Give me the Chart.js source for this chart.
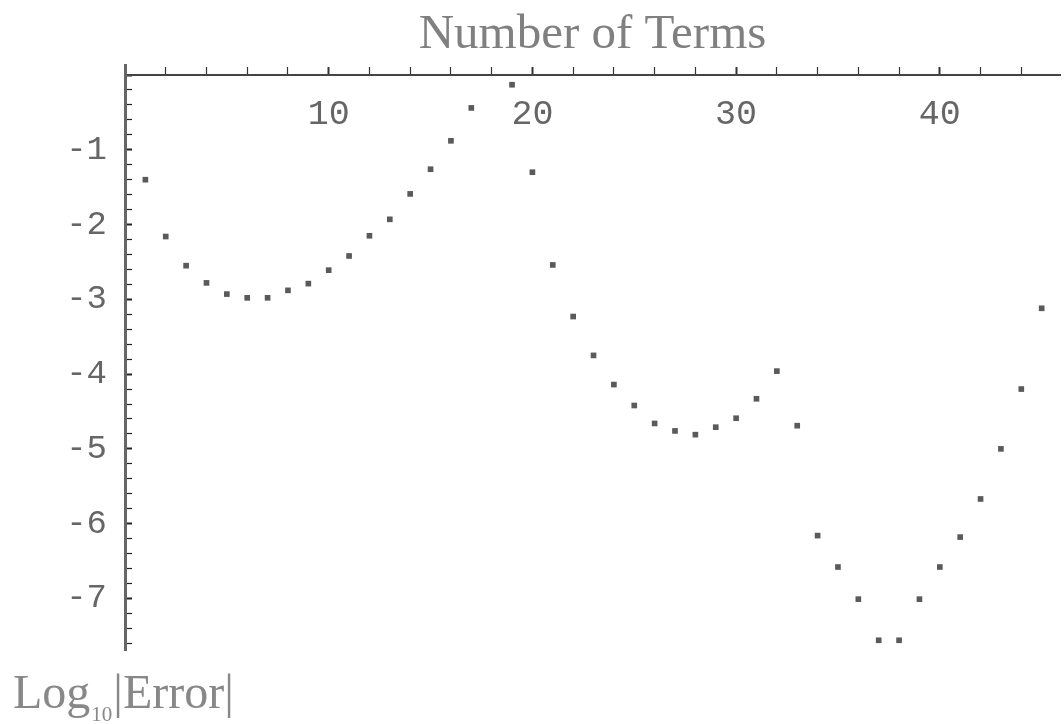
<!DOCTYPE html>
<html>
<head>
<meta charset="utf-8">
<script src="https://cdn.jsdelivr.net/npm/chart.js@4"></script>
<style>
  html, body { margin: 0; padding: 0; background: #ffffff; }
  #wrap { width: 1064px; height: 724px; position: relative; }
</style>
</head>
<body>
<div id="wrap"><canvas id="c" width="1064" height="724"></canvas></div>
<script>
// Number of terms (x) — term 18 falls off the top of the plot and is not drawn
const terms = [1, 2, 3, 4, 5, 6, 7, 8, 9, 10, 11, 12, 13, 14, 15, 16, 17,
               19, 20, 21, 22, 23, 24, 25, 26, 27, 28, 29, 30, 31, 32, 33,
               34, 35, 36, 37, 38, 39, 40, 41, 42, 43, 44, 45];
// log10 |Error|
const logError = [-1.40, -2.16, -2.55, -2.78, -2.93, -2.98, -2.98, -2.88, -2.79, -2.61,
                  -2.42, -2.15, -1.93, -1.59, -1.26, -0.88, -0.44,
                  -0.13, -1.30, -2.54, -3.23, -3.75, -4.14, -4.42, -4.66, -4.76,
                  -4.81, -4.71, -4.59, -4.33, -3.96, -4.69,
                  -6.16, -6.58, -7.01, -7.56, -7.56, -7.01, -6.58, -6.18, -5.67,
                  -5.00, -4.20, -3.12];
const xTickLabels = [10, 20, 30, 40];
const yTickLabels = [-1, -2, -3, -4, -5, -6, -7];
const titleText = 'Number of Terms';
const yLabelMain = 'Log';
const yLabelSub = '10';
const yLabelTail = '|Error|';

const points = terms.map((t, i) => ({ x: t, y: logError[i] }));

function labelFor(v, list) {
  const r = Math.round(v);
  return (Math.abs(v - r) < 1e-6 && list.includes(r)) ? String(r) : '';
}
function isWhole(v, every) {
  const r = Math.round(v);
  return Math.abs(v - r) < 1e-6 && r % every === 0;
}

const yLabelPlugin = {
  id: 'yLabel',
  afterDraw(chart) {
    const ctx = chart.ctx;
    ctx.save();
    ctx.fillStyle = '#888';
    ctx.textBaseline = 'alphabetic';
    ctx.textAlign = 'left';
    ctx.font = '48px "Liberation Serif"';
    let x = 13;
    const base = 708;
    ctx.fillText(yLabelMain, x, base);
    x += ctx.measureText(yLabelMain).width + 1;
    ctx.font = '21px "Liberation Serif"';
    ctx.fillText(yLabelSub, x, base + 13);
    x += ctx.measureText(yLabelSub).width + 1;
    ctx.font = '48px "Liberation Serif"';
    ctx.fillText(yLabelTail, x, base);
    ctx.restore();
  }
};

new Chart(document.getElementById('c'), {
  type: 'scatter',
  data: {
    datasets: [{
      data: points,
      pointStyle: 'rect',
      pointRadius: 4,
      pointBorderWidth: 0,
      pointBackgroundColor: '#5a5a5a',
      showLine: false
    }]
  },
  options: {
    responsive: false,
    animation: false,
    devicePixelRatio: 1,
    events: [],
    layout: { padding: { left: 0, right: 0, top: 0, bottom: 74 } },
    plugins: {
      legend: { display: false },
      tooltip: { enabled: false },
      title: {
        display: true,
        text: titleText,
        fullSize: false,
        color: '#808080',
        font: { family: 'Liberation Serif', size: 49, weight: 'normal', lineHeight: 1 },
        padding: { top: 11, bottom: 5 }
      }
    },
    scales: {
      x: {
        type: 'linear',
        min: 0,
        max: 45.9,
        position: { y: 0 },
        border: { display: true, color: '#444', width: 2 },
        grid: {
          display: true,
          drawOnChartArea: false,
          drawTicks: true,
          tickLength: -9,
          tickColor: '#333',
          tickWidth: (c) => (c.tick && isWhole(c.tick.value, 10)) ? 2 : 1.2
        },
        ticks: {
          stepSize: 2,
          autoSkip: false,
          includeBounds: false,
          maxRotation: 0,
          padding: 28,
          color: '#666',
          font: { family: 'Liberation Mono', size: 35 },
          callback: (v) => labelFor(v, xTickLabels)
        }
      },
      y: {
        type: 'linear',
        min: -7.69,
        max: 0.134,
        position: 'left',
        border: { display: true, color: '#666', width: 3 },
        grid: {
          display: true,
          drawOnChartArea: false,
          drawTicks: true,
          tickLength: -7,
          tickColor: '#222',
          tickWidth: (c) => (c.tick && isWhole(c.tick.value, 1)) ? 2 : 1.2
        },
        ticks: {
          stepSize: 0.2,
          autoSkip: false,
          includeBounds: false,
          padding: 25,
          color: '#666',
          font: { family: 'Liberation Mono', size: 34 },
          callback: (v) => labelFor(v, yTickLabels)
        },
        afterFit: (scale) => { scale.width = 125; }
      }
    }
  },
  plugins: [yLabelPlugin]
});
</script>
</body>
</html>
